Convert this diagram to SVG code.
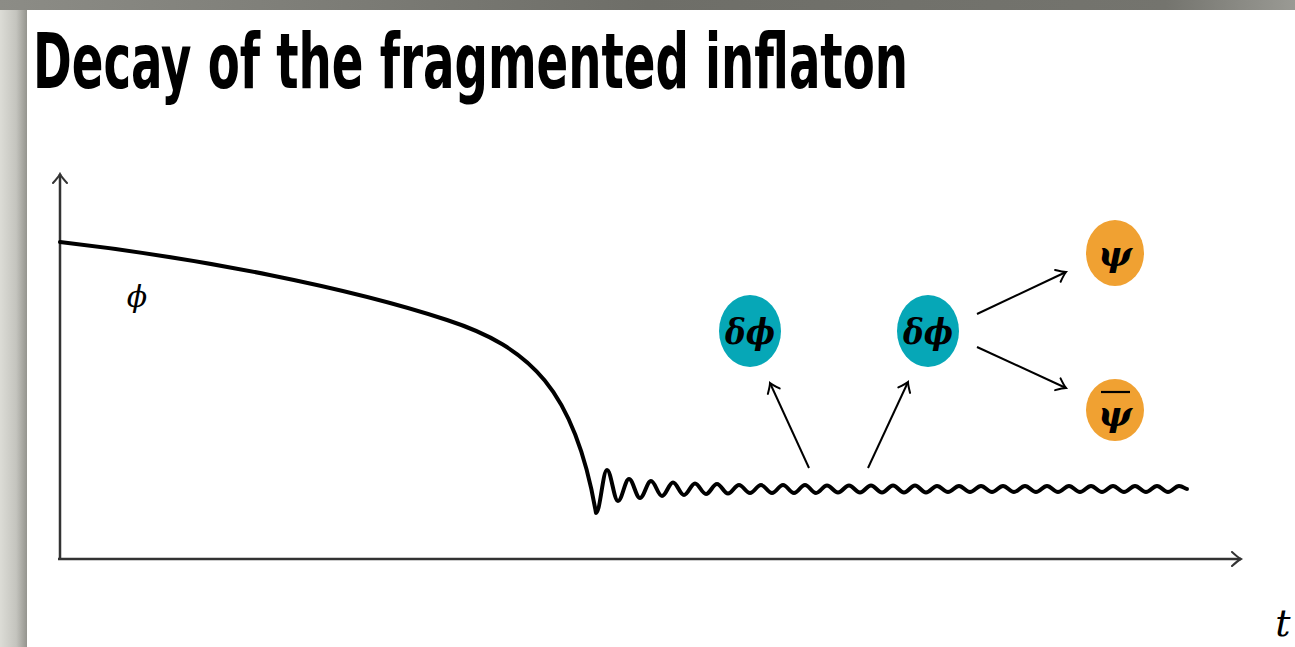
<svg xmlns="http://www.w3.org/2000/svg" width="1295" height="647" viewBox="0 0 1295 647">
<defs>
<linearGradient id="gTop" x1="0" y1="0" x2="1" y2="0">
<stop offset="0" stop-color="#8c8c86"/><stop offset="0.5" stop-color="#6e6e68"/><stop offset="0.9" stop-color="#74746e"/><stop offset="1" stop-color="#9a9a94"/>
</linearGradient>
<linearGradient id="gLeft" x1="0" y1="0" x2="1" y2="0">
<stop offset="0" stop-color="#dcdcd6"/><stop offset="0.6" stop-color="#c4c4be"/><stop offset="1" stop-color="#94948e"/>
</linearGradient>
<marker id="arr" viewBox="-12 -8 14 16" refX="0" refY="0" markerWidth="14" markerHeight="16" markerUnits="userSpaceOnUse" orient="auto">
<path d="M-9,-6.5 Q-3,-1.5 0,0 Q-3,1.5 -9,6.5" fill="none" stroke="#000" stroke-width="2" stroke-linecap="round"/>
</marker>
<marker id="axarr" viewBox="-12 -8 14 16" refX="0" refY="0" markerWidth="14" markerHeight="16" markerUnits="userSpaceOnUse" orient="auto">
<path d="M-9,-7 Q-3,-1.5 0,0 Q-3,1.5 -9,7" fill="none" stroke="#333" stroke-width="2" stroke-linecap="round"/>
</marker>
</defs>
<style>
.title{font-family:"DejaVu Sans Condensed","Liberation Sans",sans-serif;font-weight:bold;font-size:52px;fill:#000}
.axis{stroke:#333;stroke-width:2.5;fill:none}
.conn{stroke:#000;stroke-width:2;fill:none}
.curve{stroke:#000;stroke-width:4;fill:none;stroke-linejoin:round;stroke-linecap:round}
.teal{fill:#06a7b7}
.orange{fill:#f0a132}
.sym{font-family:"DejaVu Serif","Liberation Serif",serif;font-style:italic;font-weight:bold;font-size:36px;fill:#000;text-anchor:middle}
.lbl{font-family:"DejaVu Serif","Liberation Serif",serif;font-style:italic;fill:#000;text-anchor:middle}
</style>
<rect x="0" y="0" width="1295" height="647" fill="#fff"/>
<rect x="0" y="0" width="27" height="647" fill="url(#gLeft)"/>
<rect x="0" y="0" width="1295" height="10" fill="url(#gTop)"/>
<text class="title" transform="translate(33,88) scale(1,1.46)" x="0" y="0" textLength="875" lengthAdjust="spacingAndGlyphs">Decay of the fragmented inflaton</text>
<g id="axes">
<path class="axis" d="M60,559 L60,174" marker-end="url(#axarr)"/>
<path class="axis" d="M58,559 L1241,559" marker-end="url(#axarr)"/>
</g>
<g id="curve">
<path class="curve" d="M60,242 C200,258 350,288 447,320 C530,347 575,390 596,513 C600,513 603,470 607,470 C611,470 614,501 618,501 S625,479 629,479 S636,498 640,498 S647,481 651,481 S658,496 662,496 S669,482.5 673,482.5 S680,495 684,495 S691,483.5 695,483.5 S702,494 706,494 S713,484 717,484 S724,493.5 728,493.5 S735,485 739,485 S746,493 750,493 S757,485 761,485 S768,493 772,493 S779,485 783,485 S790,493 794,493 S801,485 805,485 S812,493 816,493 S823,485.5 827,485.5 S834,492.5 838,492.5 S845,485.5 849,485.5 S856,492.5 860,492.5 S867,485.5 871,485.5 S878,492.5 882,492.5 S889,485.5 893,485.5 S900,492.5 904,492.5 S911,485.5 915,485.5 S922,492.5 926,492.5 S933,486 937,486 S944,492 948,492 S955,486 959,486 S966,492 970,492 S977,486 981,486 S988,492 992,492 S999,486 1003,486 S1010,492 1014,492 S1021,486 1025,486 S1032,492 1036,492 S1043,486 1047,486 S1054,492 1058,492 S1065,486 1069,486 S1076,492 1080,492 S1087,486 1091,486 S1098,492 1102,492 S1109,486 1113,486 S1120,492 1124,492 S1131,486 1135,486 S1142,492 1146,492 S1153,486 1157,486 S1164,492 1168,492 S1175,486 1179,486 S1185,489 1187,489"/>
</g>
<g id="labels">
<text class="lbl" x="137" y="307" font-size="30">ϕ</text>
<text class="lbl" x="1283" y="636" font-size="38">t</text>
</g>
<g id="connectors">
<path class="conn" d="M809,468 L770,383" marker-end="url(#arr)"/>
<path class="conn" d="M868,468 L908,382" marker-end="url(#arr)"/>
<path class="conn" d="M977,314 L1066,272" marker-end="url(#arr)"/>
<path class="conn" d="M977,347 L1066,388" marker-end="url(#arr)"/>
</g>
<g id="node-dphi1">
<ellipse class="teal" cx="750" cy="331" rx="31" ry="36"/>
<text class="sym" x="750" y="344" textLength="50" lengthAdjust="spacingAndGlyphs">δϕ</text>
</g>
<g id="node-dphi2">
<ellipse class="teal" cx="928" cy="331" rx="31" ry="36"/>
<text class="sym" x="928" y="344" textLength="50" lengthAdjust="spacingAndGlyphs">δϕ</text>
</g>
<g id="node-psi">
<ellipse class="orange" cx="1115" cy="253" rx="29" ry="33"/>
<text class="sym" x="1115" y="266">ψ</text>
</g>
<g id="node-psibar">
<ellipse class="orange" cx="1115" cy="410" rx="29" ry="31"/>
<line x1="1101" y1="392" x2="1130" y2="392" stroke="#000" stroke-width="2.2"/>
<text class="sym" x="1115" y="426">ψ</text>
</g>
</svg>
